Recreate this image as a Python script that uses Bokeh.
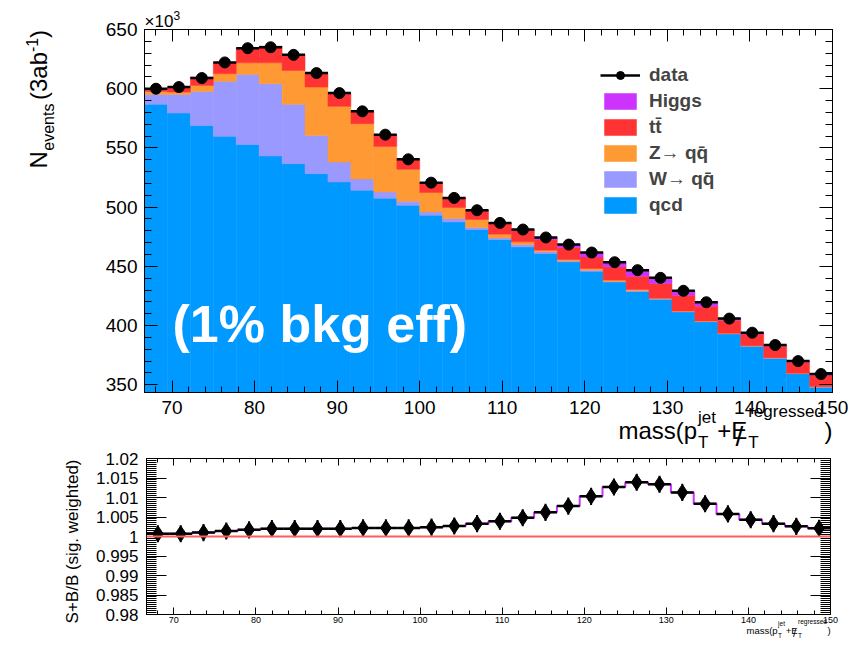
import numpy as np
from math import pi
from bokeh.plotting import figure
from bokeh.models import (FixedTicker, Label, Legend, LegendItem, Span,
                          LinearAxis, CustomJSTickFormatter, Range1d)
from bokeh.layouts import column
from bokeh.embed import file_html
from bokeh.resources import INLINE

FONT = "Liberation Sans"

# ---------------- binning / axes ----------------
x_min, x_max, n_bins = 66.667, 150.0, 30
y_main_range = (343.5, 650.0)
y_ratio_range = (0.98, 1.02)

x_major = [70, 80, 90, 100, 110, 120, 130, 140, 150]
x_minor = list(range(68, 151, 2))
y_main_major = [350, 400, 450, 500, 550, 600, 650]
y_main_minor = list(range(350, 651, 10))
y_ratio_major = [0.98, 0.985, 0.99, 0.995, 1.0, 1.005, 1.01, 1.015, 1.02]
y_ratio_minor = [round(0.98 + 0.0005 * i, 4) for i in range(81)]

# ---------------- data (x10^3 events) ----------------
qcd = [586.8, 579.4, 569.0, 559.8, 552.8, 543.2, 536.7, 528.3, 521.3, 514.3,
       507.5, 501.6, 493.2, 487.5, 481.1, 472.7, 466.4, 460.9, 453.8, 445.9,
       436.7, 428.8, 422.2, 411.5, 403.2, 392.9, 382.5, 372.4, 359.3, 348.0]
wqq = [8.4, 15.8, 28.7, 46.4, 59.2, 61.0, 50.1, 32.3, 16.8, 9.5,
       5.3, 3.4, 2.8, 2.9, 1.7, 1.3, 2.0, 1.4, 0.8, 0.9,
       0.6, 0.6, 0.4, 0.4, 0.3, 0.3, 0.2, 0.2, 0.2, 0.2]
zqq = [2.5, 2.0, 5.1, 6.4, 9.9, 17.7, 28.6, 40.8, 47.0, 46.7,
       38.5, 27.0, 16.3, 9.3, 6.8, 3.2, 2.3, 1.4, 1.2, 1.4,
       1.1, 1.1, 0.5, 0.4, 0.4, 0.3, 0.3, 0.3, 0.3, 0.3]
ttbar = [1.3, 3.6, 6.7, 9.4, 12.1, 13.7, 13.0, 11.4, 10.9, 10.1,
         9.3, 8.2, 8.1, 7.8, 7.4, 9.0, 9.7, 9.0, 10.1, 9.8,
         11.2, 11.2, 12.5, 13.4, 12.5, 11.1, 9.8, 9.7, 9.2, 9.5]
higgs = [0.3, 0.2, 0.3, 0.3, 0.3, 0.4, 0.4, 0.4, 0.4, 0.4,
         0.4, 0.4, 0.4, 0.4, 0.5, 0.6, 0.7, 1.5, 2.3, 3.7,
         3.9, 4.9, 4.7, 3.7, 3.3, 1.3, 1.2, 1.0, 1.0, 1.1]
data = [600.0, 601.4, 609.0, 622.2, 634.2, 635.0, 628.6, 613.2, 596.3, 580.9,
        561.2, 540.4, 520.7, 507.8, 497.4, 486.7, 481.1, 474.4, 468.4, 461.7,
        453.5, 446.8, 440.3, 429.4, 419.7, 405.9, 394.0, 383.6, 370.0, 359.1]

ratio = [1.0007, 1.0007, 1.0010, 1.0014, 1.0017, 1.0020, 1.0020, 1.0020, 1.0020, 1.0022,
         1.0022, 1.0022, 1.0024, 1.0027, 1.0033, 1.0039, 1.0048, 1.0062, 1.0078, 1.0103,
         1.0127, 1.0139, 1.0134, 1.0113, 1.0084, 1.0058, 1.0043, 1.0033, 1.0026, 1.0021]
ratio_err = [0.0022, 0.0022, 0.0022, 0.0022, 0.0022, 0.0022, 0.0022, 0.0022, 0.0022, 0.0022,
             0.0022, 0.0022, 0.0022, 0.0022, 0.0022, 0.0022, 0.0022, 0.0022, 0.0022, 0.0022,
             0.0022, 0.0022, 0.0022, 0.0022, 0.0022, 0.0022, 0.0022, 0.0022, 0.0022, 0.0022]

series_names = ["qcd", "W\u2192 q" + "q\u0304", "Z\u2192 q" + "q\u0304", "t" + "t\u0304", "Higgs"]
series_vals = [qcd, wqq, zqq, ttbar, higgs]
series_colors = ["#0099ff", "#9999ff", "#ff9933", "#ff3333", "#cc33ff"]
legend_order = ["Higgs", "t" + "t\u0304", "Z\u2192 q" + "q\u0304", "W\u2192 q" + "q\u0304", "qcd"]

edges = np.linspace(x_min, x_max, n_bins + 1)
centers = 0.5 * (edges[:-1] + edges[1:])


def style_axis(ax, ticks, minor, major_in, minor_in, size, standoff, labels=True, fmt=None):
    ax.ticker = FixedTicker(ticks=ticks, minor_ticks=minor)
    ax.major_tick_in = major_in
    ax.major_tick_out = 0
    ax.minor_tick_in = minor_in
    ax.minor_tick_out = 0
    ax.axis_line_color = "black"
    ax.major_tick_line_color = "black"
    ax.minor_tick_line_color = "black"
    ax.major_label_text_font = FONT
    ax.major_label_text_font_size = size
    ax.major_label_text_color = "black"
    ax.major_label_standoff = standoff
    if not labels:
        ax.formatter = CustomJSTickFormatter(code="return '';")
    elif fmt is not None:
        ax.formatter = fmt


# ---------------- top panel ----------------
p = figure(width=862, height=442, x_range=Range1d(x_min, x_max),
           y_range=Range1d(*y_main_range), output_backend="svg",
           toolbar_location=None, min_border_left=144, min_border_right=30,
           min_border_top=29, min_border_bottom=50)
p.frame_align = False
p.grid.visible = False
p.outline_line_color = "black"
p.background_fill_color = "white"
p.border_fill_color = "white"

bottom = np.zeros(n_bins)
renderers = {}
for name, vals, col in zip(series_names, series_vals, series_colors):
    top = bottom + np.array(vals)
    r = p.quad(left=edges[:-1], right=edges[1:], bottom=bottom, top=top,
               fill_color=col, line_color=col, line_width=0.5)
    renderers[name] = r
    bottom = top

seg_r = p.segment(x0=edges[:-1], y0=data, x1=edges[1:], y1=data,
                  line_color="black", line_width=2.5)
dot_r = p.scatter(centers, data, marker="circle", size=11, color="black")

style_axis(p.xaxis[0], x_major, x_minor, 12, 6, "19px", 8)
style_axis(p.yaxis[0], y_main_major, y_main_minor, 13, 7, "19px", 7)
top_ax = LinearAxis()
style_axis(top_ax, x_major, x_minor, 12, 6, "2px", 0, labels=False)
p.add_layout(top_ax, "above")
right_ax = LinearAxis()
style_axis(right_ax, y_main_major, y_main_minor, 13, 7, "2px", 0, labels=False)
p.add_layout(right_ax, "right")

items = [LegendItem(label="data", renderers=[seg_r, dot_r])]
for name in legend_order:
    items.append(LegendItem(label=name, renderers=[renderers[name]]))
legend = Legend(items=items, location=(456, 176), glyph_width=40, glyph_height=20,
                label_height=20, spacing=4, padding=0, margin=0, label_standoff=9,
                label_text_font=FONT, label_text_font_style="bold",
                label_text_font_size="19px", border_line_alpha=0,
                background_fill_alpha=0)
p.add_layout(legend)

# ---------------- ratio panel ----------------
q = figure(width=862, height=204, x_range=Range1d(x_min, x_max),
           y_range=Range1d(*y_ratio_range), output_backend="svg",
           toolbar_location=None, min_border_left=146, min_border_right=32,
           min_border_top=16, min_border_bottom=32)
q.frame_align = False
q.grid.visible = False
q.outline_line_color = "black"
q.background_fill_color = "white"
q.border_fill_color = "white"

q.add_layout(Span(location=1.0, dimension="width", line_color="#ff5c5c", line_width=2))
step_y = list(ratio) + [ratio[-1]]
q.step(edges, step_y, mode="after", line_color="#cc33ff", line_width=2)
r_lo = [r - e for r, e in zip(ratio, ratio_err)]
r_hi = [r + e for r, e in zip(ratio, ratio_err)]
q.segment(x0=centers, y0=r_lo, x1=centers, y1=r_hi, line_color="black", line_width=2)
q.segment(x0=edges[:-1], y0=ratio, x1=edges[1:], y1=ratio, line_color="black", line_width=2.5)
q.scatter(centers, ratio, marker="diamond", size=16, color="black")

ratio_fmt = CustomJSTickFormatter(code="return String(Math.round(tick*1000)/1000);")
style_axis(q.xaxis[0], x_major, x_minor, 7, 4, "9px", 2)
style_axis(q.yaxis[0], y_ratio_major, y_ratio_minor, 20, 10, "17px", 8, fmt=ratio_fmt)
top2 = LinearAxis()
style_axis(top2, x_major, x_minor, 7, 4, "2px", 0, labels=False)
q.add_layout(top2, "above")
right2 = LinearAxis()
style_axis(right2, y_ratio_major, y_ratio_minor, 20, 10, "2px", 0, labels=False)
q.add_layout(right2, "right")

# ---------------- transparent text overlay (page pixel coordinates) ----------------
ann = figure(width=862, height=646, x_range=Range1d(0, 862), y_range=Range1d(646, 0),
             output_backend="svg", toolbar_location=None, x_axis_type=None,
             y_axis_type=None, min_border_left=0, min_border_right=0,
             min_border_top=0, min_border_bottom=0, margin=(-646, 0, 0, 0))
ann.frame_align = False
ann.grid.visible = False
ann.outline_line_color = None
ann.background_fill_alpha = 0
ann.border_fill_alpha = 0


def txt(text, x, base_y, size, angle=0.0, align="left", color="black", style="normal"):
    """Place text so that its baseline sits at base_y (or, rotated, at x = base_y)."""
    off = 0.35 * size
    if angle:
        ax_, ay_ = base_y - off, x
    else:
        ax_, ay_ = x, base_y - off
    ann.add_layout(Label(x=ax_, y=ay_, text=text, text_font=FONT,
                         text_font_size=f"{size}px", text_color=color,
                         text_font_style=style, angle=angle, text_align=align,
                         text_baseline="middle"))


# multiplier
txt("\u00d710", 144, 27, 17)
txt("3", 173, 19, 12)

# y title top: N_events (3ab^-1)   (rotated: x arg = start y, base_y = baseline x)
txt("N", 168, 46, 24, angle=pi / 2)
txt("events", 150.2, 54, 16, angle=pi / 2)
txt("(3ab", 99.5, 46, 24, angle=pi / 2)
txt("-1", 51.5, 37, 16, angle=pi / 2)
txt(")", 37.5, 46, 24, angle=pi / 2)

# x title top
X0 = 618
txt("mass(p", X0, 438, 24)
txt("jet", X0 + 79.5, 423, 17)
txt("T", X0 + 79.5, 448, 17)
txt("+E", X0 + 98.7, 438, 24)
txt("/", X0 + 117, 446, 28)
txt("T", X0 + 129.7, 448, 17)
txt("regressed", X0 + 129.7, 417, 17)
txt(")", X0 + 206, 438, 24)

# annotation inside the frame
txt("(1% bkg eff)", 172, 342, 52, color="white", style="bold")

# y title bottom
txt("S+B/B (sig. weighted)", 459, 78, 17, angle=pi / 2, align="right")

# x title bottom
X1 = 746
txt("mass(p", X1, 633, 9.5)
txt("jet", X1 + 31.6, 625, 6.5)
txt("T", X1 + 31.6, 637, 6.5)
txt("+E", X1 + 39.3, 633, 9.5)
txt("/", X1 + 46.5, 636, 11)
txt("T", X1 + 51.5, 637, 6.5)
txt("regressed", X1 + 51.5, 623, 6.5)
txt(")", X1 + 81, 633, 9.5)

layout = column(p, q, ann)
open("out.html", "w").write(file_html(layout, INLINE))
